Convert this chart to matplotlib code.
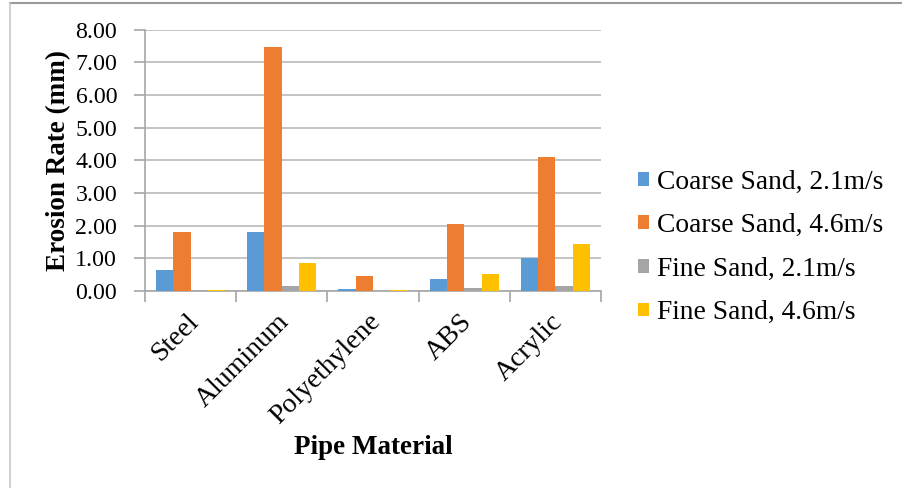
import matplotlib
matplotlib.use("Agg")
import matplotlib.pyplot as plt
import matplotlib.transforms as mtransforms
from matplotlib.lines import Line2D
import numpy as np

plt.rcParams['font.family'] = ['Liberation Serif', 'DejaVu Serif']

materials = ["Steel", "Aluminum", "Polyethylene", "ABS", "Acrylic"]
series_names = ["Coarse Sand, 2.1m/s", "Coarse Sand, 4.6m/s",
                "Fine Sand, 2.1m/s", "Fine Sand, 4.6m/s"]
coarse_21 = [0.64, 1.81, 0.05, 0.37, 1.02]
coarse_46 = [1.81, 7.45, 0.47, 2.05, 4.09]
fine_21 = [0.03, 0.15, 0.01, 0.09, 0.16]
fine_46 = [0.02, 0.86, 0.04, 0.52, 1.43]
y_ticks = [0, 1, 2, 3, 4, 5, 6, 7, 8]

series = [coarse_21, coarse_46, fine_21, fine_46]
colors = ["#5B9BD5", "#ED7D31", "#A5A5A5", "#FFC000"]

W, H = 903, 488
fig = plt.figure(figsize=(W / 100, H / 100), dpi=100)
ax = fig.add_axes([145 / W, 1 - 291 / H, (601 - 145) / W, (291 - 29.5) / H])

x = np.arange(len(materials))
bw = 0.19
for k, (vals, c, name) in enumerate(zip(series, colors, series_names)):
    ax.bar(x + (k - 1.5) * bw, vals, bw, color=c, label=name, zorder=3)

ax.set_xlim(-0.5, len(materials) - 0.5)
ax.set_ylim(0, 8)
ax.set_yticks(y_ticks)
ax.set_yticklabels([f"{v:.2f}" for v in y_ticks], fontsize=17.2)
ax.yaxis.grid(True, color="#BFBFBF", linewidth=1.3, zorder=0)
ax.set_axisbelow(True)

ax.set_xticks(x)
ax.set_xticklabels(materials, fontsize=20, rotation=45, ha='right',
                   va='top', rotation_mode='anchor')
ax.set_xticks(np.arange(-0.5, len(materials)), minor=True)
ax.tick_params(axis='x', which='major', length=0, pad=13)
ax.tick_params(axis='x', which='minor', length=8, color="#A6A6A6", width=1.2)
ax.tick_params(axis='y', length=8, color="#A6A6A6", width=1.2, pad=12)

# nudge the slanted category labels slightly to the left
shift = mtransforms.ScaledTranslation(-5 / 100, 0, fig.dpi_scale_trans)
for lbl in ax.get_xticklabels():
    lbl.set_transform(lbl.get_transform() + shift)

for s in ["top", "right"]:
    ax.spines[s].set_visible(False)
for s in ["left", "bottom"]:
    ax.spines[s].set_color("#A6A6A6")
    ax.spines[s].set_linewidth(1.2)

ax.set_ylabel("Erosion Rate (mm)", fontsize=19.5, fontweight='bold', labelpad=3)
fig.text(373 / W, 1 - 448 / H, "Pipe Material", fontsize=19.5,
         fontweight='bold', ha='center', va='center')

ax.legend(loc='center left', bbox_to_anchor=(638 / W, 1 - 247.5 / H),
          bbox_transform=fig.transFigure, frameon=False, fontsize=19.8,
          handlelength=0.4, handleheight=0.4, handletextpad=0.3,
          labelspacing=0.675, borderpad=0, borderaxespad=0)

# chart frame edges
fig.add_artist(Line2D([10 / W, 1], [1 - 3 / H, 1 - 3 / H],
                      transform=fig.transFigure, color="#999999", lw=1.5))
fig.add_artist(Line2D([10 / W, 10 / W], [0, 1 - 3 / H],
                      transform=fig.transFigure, color="#C8C8C8", lw=1.2))

fig.savefig("out.png", dpi=100)
